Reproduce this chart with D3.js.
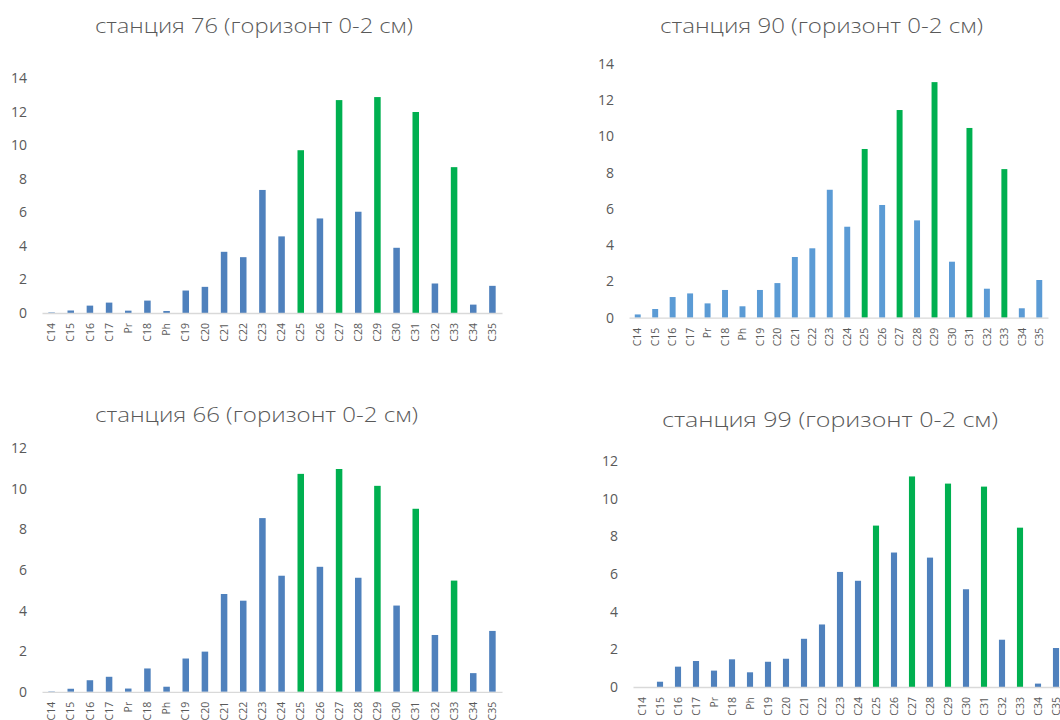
<!DOCTYPE html>
<html>
<head>
<meta charset="utf-8">
<script src="https://cdn.jsdelivr.net/npm/d3@7"></script>
<style>
  body { margin: 0; background: #fff; }
  svg { display: block; font-family: "Open Sans", "Noto Sans", sans-serif; }
</style>
</head>
<body>
<svg id="chart" width="1060" height="720"></svg>
<script>
// categories shared by all four stations
const categories = ['C14', 'C15', 'C16', 'C17', 'Pr', 'C18', 'Ph', 'C19', 'C20', 'C21', 'C22', 'C23',
  'C24', 'C25', 'C26', 'C27', 'C28', 'C29', 'C30', 'C31', 'C32', 'C33', 'C34', 'C35'];
// odd long-chain alkanes drawn in green
const oddLong = ['C25', 'C27', 'C29', 'C31', 'C33'];

const st76 = [0.03, 0.15, 0.44, 0.62, 0.14, 0.74, 0.12, 1.34, 1.56, 3.65, 3.33, 7.34,
  4.57, 9.71, 5.64, 12.70, 6.04, 12.88, 3.89, 11.99, 1.76, 8.70, 0.50, 1.62];
const st90 = [0.18, 0.48, 1.14, 1.34, 0.79, 1.53, 0.63, 1.53, 1.91, 3.35, 3.83, 7.06,
  5.02, 9.31, 6.22, 11.46, 5.37, 13.0, 3.09, 10.47, 1.60, 8.20, 0.52, 2.08];
const st66 = [0.02, 0.15, 0.57, 0.74, 0.16, 1.15, 0.25, 1.64, 1.98, 4.82, 4.49, 8.56,
  5.72, 10.74, 6.16, 10.98, 5.62, 10.15, 4.25, 9.02, 2.80, 5.48, 0.92, 3.00];
const st99 = [0, 0.28, 1.08, 1.38, 0.87, 1.47, 0.78, 1.34, 1.50, 2.56, 3.32, 6.11,
  5.64, 8.57, 7.14, 11.18, 6.87, 10.80, 5.19, 10.64, 2.51, 8.46, 0.18, 2.07];

const titles = ['станция 76 (горизонт 0-2 см)', 'станция 90 (горизонт 0-2 см)',
  'станция 66 (горизонт 0-2 см)', 'станция 99 (горизонт 0-2 см)'];
const yMax = [14, 14, 12, 12];

// panel placement on the page
const panels = [
  { values: st76, x: [42, 502], y: [313, 78.3], blue: '#4f81bd', tx: 254, ty: 33, tw: 318 },
  { values: st90, x: [629, 1048], y: [317.7, 64], blue: '#5b9bd5', tx: 821.5, ty: 33, tw: 323 },
  { values: st66, x: [42, 502], y: [691.8, 448.3], blue: '#4f81bd', tx: 256.5, ty: 421.5, tw: 323 },
  { values: st99, x: [633, 1065], y: [687, 461], blue: '#4f81bd', tx: 830, ty: 426.5, tw: 336 }
];

const green = '#00b050';
const textColor = '#595959';
const svg = d3.select('#chart');

panels.forEach((p, i) => {
  const g = svg.append('g');

  const x = d3.scaleBand()
    .domain(categories)
    .range(p.x)
    .paddingInner(0.66)
    .paddingOuter(0.33);

  const y = d3.scaleLinear()
    .domain([0, yMax[i]])
    .range(p.y);

  g.append('text')
    .attr('x', p.tx)
    .attr('y', p.ty)
    .attr('text-anchor', 'middle')
    .attr('font-size', 20.5)
    .attr('font-weight', 300)
    .attr('fill', textColor)
    .attr('textLength', p.tw)
    .attr('lengthAdjust', 'spacingAndGlyphs')
    .text(titles[i]);

  // y axis labels only, no line
  const yAxis = g.append('g')
    .attr('transform', `translate(${p.x[0] - 15},0)`)
    .call(d3.axisLeft(y).tickValues(d3.range(0, yMax[i] + 1, 2)).tickSize(0).tickPadding(0));
  yAxis.select('.domain').remove();
  yAxis.selectAll('text')
    .attr('font-size', 14)
    .attr('font-family', '"Open Sans", sans-serif')
    .attr('fill', textColor);

  g.selectAll('.bar')
    .data(p.values)
    .enter().append('rect')
    .attr('class', 'bar')
    .attr('x', (d, j) => x(categories[j]))
    .attr('y', d => y(d))
    .attr('width', x.bandwidth())
    .attr('height', d => y(0) - y(d))
    .attr('fill', (d, j) => oddLong.includes(categories[j]) ? green : p.blue);

  const xAxis = g.append('g')
    .attr('transform', `translate(0,${y(0)})`)
    .call(d3.axisBottom(x).tickSize(0).tickSizeOuter(0));
  xAxis.select('.domain')
    .attr('stroke', '#d9d9d9')
    .attr('stroke-width', 1.3);
  xAxis.selectAll('text')
    .attr('font-size', 10.5)
    .attr('font-family', '"Open Sans", sans-serif')
    .attr('fill', textColor)
    .attr('text-anchor', 'end')
    .attr('dy', '0.35em')
    .attr('transform', 'translate(0,10) rotate(-90)')
    .attr('x', 0)
    .attr('y', 0);
});
</script>
</body>
</html>
